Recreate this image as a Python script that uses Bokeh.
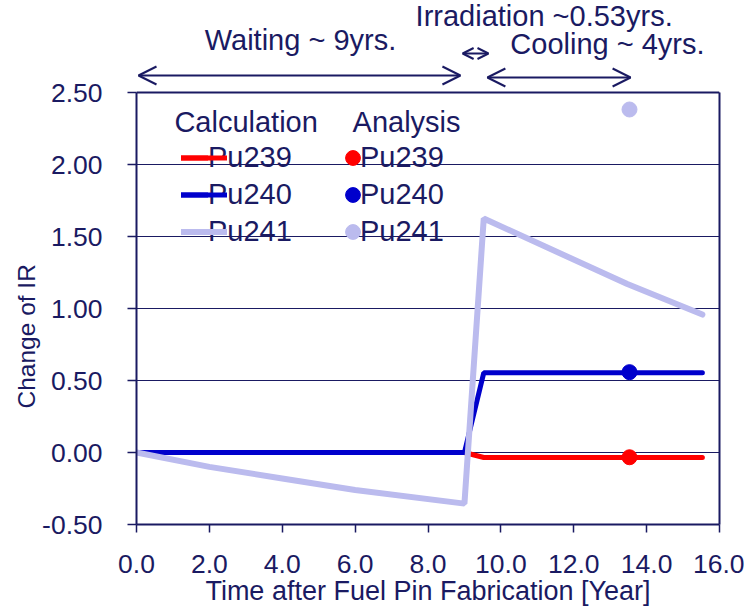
from bokeh.plotting import figure
from bokeh.models import (Range1d, Label, Arrow, OpenHead, Legend, LegendItem,
                          FixedTicker, NumeralTickFormatter, Title, LinearAxis)
from bokeh.embed import file_html
from bokeh.resources import INLINE

# ---- data ----
pu239_x = [0.0, 9.0, 9.53, 15.53]
pu239_y = [0.0, 0.0, -0.035, -0.035]
pu240_x = [0.0, 9.0, 9.53, 15.53]
pu240_y = [0.0, 0.0, 0.553, 0.553]
pu241_x = [0.0, 2.0, 4.0, 6.0, 9.0, 9.53, 13.47, 15.53]
pu241_y = [0.0, -0.10, -0.18, -0.26, -0.355, 1.625, 1.17, 0.958]

ana_x = [13.53]
ana_pu239 = [-0.033]
ana_pu240 = [0.558]
ana_pu241 = [2.382]

x_ticks = [0, 2, 4, 6, 8, 10, 12, 14, 16]
y_ticks = [-0.5, 0.0, 0.5, 1.0, 1.5, 2.0, 2.5]
series = ["Pu239", "Pu240", "Pu241"]

NAVY = "#1a1a62"
RED = "#ff0000"
BLUE = "#0000cc"
LAV = "#bbbbee"
FONT = "Liberation Sans"

X0, X1 = 0, 16
Y0, Y1 = -0.5, 2.5
PX_PER_Y = 144.0            # vertical scale (pixels per unit)
TOP_ROOM = 92               # space above the box for the period annotations
Y_TOP = Y1 + TOP_ROOM / PX_PER_Y

def ay(px_from_top):
    """y position (data units) of a point px pixels below the top of the canvas"""
    return Y1 + (TOP_ROOM - px_from_top) / PX_PER_Y

p = figure(width=744, height=616, output_backend="svg", toolbar_location=None,
           x_range=Range1d(X0, X1), y_range=Range1d(Y0, Y_TOP),
           min_border_left=136, min_border_right=25,
           min_border_top=0, min_border_bottom=92,
           background_fill_color="white", border_fill_color="white")

p.outline_line_color = None
p.xgrid.visible = False
p.ygrid.grid_line_color = NAVY
p.ygrid.grid_line_width = 1.2

for ax in (p.xaxis[0], p.yaxis[0]):
    ax.axis_line_color = NAVY
    ax.axis_line_width = 2
    ax.major_tick_line_color = NAVY
    ax.major_tick_line_width = 1.5
    ax.major_tick_in = 0
    ax.minor_tick_line_color = None
    ax.major_label_text_color = NAVY
    ax.major_label_text_font = FONT
    ax.major_label_text_font_size = "26.5px"
    ax.axis_label_text_color = NAVY
    ax.axis_label_text_font = FONT
    ax.axis_label_text_font_style = "normal"
p.yaxis.bounds = (Y0, Y1)        # left axis line stops at the top of the box

p.xaxis.ticker = FixedTicker(ticks=x_ticks)
p.yaxis.ticker = FixedTicker(ticks=y_ticks)
p.xaxis.formatter = NumeralTickFormatter(format="0.0")
p.yaxis.formatter = NumeralTickFormatter(format="0.00")
p.xaxis.major_tick_out = 8
p.yaxis.major_tick_out = 9
p.xaxis.major_label_standoff = 22
p.yaxis.major_label_standoff = 25
p.xaxis.axis_label = "Time after Fuel Pin Fabrication [Year]"
p.xaxis.axis_label_text_font_size = "27px"
p.xaxis.axis_label_standoff = 0

# right edge of the box: a bare axis line limited to the box height
p.add_layout(LinearAxis(ticker=FixedTicker(ticks=[]), bounds=(Y0, Y1),
                        axis_line_color=NAVY, axis_line_width=2,
                        major_tick_line_color=None, minor_tick_line_color=None,
                        major_tick_out=0, minor_tick_out=0, major_label_standoff=0,
                        major_label_text_font_size="1px"), "right")

# top edge of the box
p.segment(x0=[X0], y0=[Y1], x1=[X1], y1=[Y1], line_color=NAVY, line_width=2)

# y-axis title as a side title, placed off-centre like the original
p.add_layout(Title(text="Change of IR", align="left", offset=116, standoff=0,
                   text_font=FONT, text_font_size="24.5px", text_font_style="normal",
                   text_color=NAVY), "left")

r239 = p.line(pu239_x, pu239_y, line_color=RED, line_width=5, line_cap="round")
r240 = p.line(pu240_x, pu240_y, line_color=BLUE, line_width=5, line_cap="round")
r241 = p.line(pu241_x, pu241_y, line_color=LAV, line_width=6, line_cap="round")

s239 = p.scatter(ana_x, ana_pu239, size=15, marker="circle", color=RED)
s240 = p.scatter(ana_x, ana_pu240, size=15, marker="circle", color=BLUE)
s241 = p.scatter(ana_x, ana_pu241, size=15, marker="circle", color=LAV)

common = dict(orientation="vertical", glyph_height=37, label_height=37, spacing=0,
              padding=0, margin=0, border_line_color=None, background_fill_alpha=0,
              label_text_font_size="29px", label_text_color=NAVY, label_text_font=FONT,
              label_standoff=0)
calc_r = [r239, r240, r241]
ana_r = [s239, s240, s241]
# legends with the labels
p.add_layout(Legend(items=[LegendItem(label=s, renderers=[r]) for s, r in zip(series, calc_r)],
                    location=(45, 274), glyph_width=27, **common))
p.add_layout(Legend(items=[LegendItem(label=s, renderers=[r]) for s, r in zip(series, ana_r)],
                    location=(209, 274), glyph_width=15, **common))
# full-size samples (no label text) drawn over them
p.add_layout(Legend(items=[LegendItem(label="", renderers=[r]) for r in calc_r],
                    location=(45, 274), glyph_width=46, **common))
p.add_layout(Legend(items=[LegendItem(label="", renderers=[r]) for r in ana_r],
                    location=(198, 274), glyph_width=37, **common))

hdr = dict(text_color=NAVY, text_font=FONT, text_font_size="29px")
p.add_layout(Label(x=1.04, y=2.1875, text="Calculation", **hdr))
p.add_layout(Label(x=5.93, y=2.1875, text="Analysis", **hdr))

# period annotations above the plot box
ann = dict(text_color=NAVY, text_font=FONT, text_font_size="29px")
p.add_layout(Label(x=4.50, y=ay(55.5), text="Waiting ~ 9yrs.", text_align="center", **ann))
p.add_layout(Label(x=7.66, y=ay(31), text="Irradiation ~0.53yrs.", **ann))
p.add_layout(Label(x=10.26, y=ay(59), text="Cooling ~ 4yrs.", **ann))

def head(sz):
    return OpenHead(size=sz, line_color=NAVY, line_width=2)

p.add_layout(Arrow(start=head(18), end=head(18), x_start=0.055, y_start=ay(75),
                   x_end=8.89, y_end=ay(75), line_color=NAVY, line_width=2))
p.add_layout(Arrow(start=head(11), end=head(11), x_start=8.95, y_start=ay(53),
                   x_end=9.66, y_end=ay(53), line_color=NAVY, line_width=2))
p.add_layout(Arrow(start=head(18), end=head(18), x_start=9.63, y_start=ay(77),
                   x_end=13.56, y_end=ay(77), line_color=NAVY, line_width=2))

open("out.html", "w").write(file_html(p, INLINE))
